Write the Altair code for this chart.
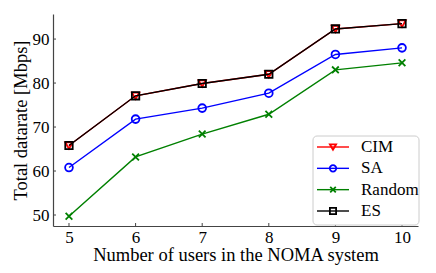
import altair as alt
import pandas as pd

users = [5, 6, 7, 8, 9, 10]
cim = [65.8, 77.1, 79.9, 82.0, 92.3, 93.5]
sa = [60.8, 71.8, 74.3, 77.7, 86.5, 88.0]
rnd = [49.7, 63.2, 68.4, 72.9, 83.0, 84.6]
es = [65.8, 77.1, 79.9, 82.0, 92.3, 93.5]

series_names = ["CIM", "SA", "Random", "ES"]
series_values = [cim, sa, rnd, es]
series_colors = ["#ff0000", "#0000ff", "#008000", "#000000"]
x_shape = "M-1,-1L1,1M-1,1L1,-1"
series_shapes = ["triangle-down", "circle", x_shape, "square"]
series_sizes = [55, 60, 45, 55]

x_ticks = [5, 6, 7, 8, 9, 10]
y_ticks = [50, 60, 70, 80, 90]

FONT = "Liberation Serif"
W, H = 365, 212

xs = alt.Scale(domain=[4.76, 10.24], nice=False, zero=False)
ys = alt.Scale(domain=[47.5, 95.7], nice=False, zero=False)

rows = []
for n, vals in zip(series_names, series_values):
    for u, v in zip(users, vals):
        rows.append({"users": u, "rate": v, "series": n})
df = pd.DataFrame(rows)

x_enc = alt.X("users:Q", scale=xs,
              axis=alt.Axis(values=x_ticks, format="d",
                            title="Number of users in the NOMA system",
                            grid=False, ticks=False, labelPadding=3, titlePadding=0))
y_enc = alt.Y("rate:Q", scale=ys,
              axis=alt.Axis(values=y_ticks, format="d", title="Total datarate [Mbps]",
                            grid=False, ticks=False, labelPadding=4, titlePadding=2))

layers = []
for n, c, s, sz in zip(series_names, series_colors, series_shapes, series_sizes):
    base = alt.Chart(df).transform_filter(alt.datum.series == n)
    layers.append(base.mark_line(color=c, strokeWidth=1.4).encode(x=x_enc, y=y_enc))
    layers.append(base.mark_point(color=c, shape=s, size=sz, filled=False,
                                  strokeWidth=1.8, opacity=1).encode(x=x_enc, y=y_enc))

xt = pd.DataFrame({"t": x_ticks})
yt = pd.DataFrame({"t": y_ticks})
layers.append(alt.Chart(xt).mark_rule(color="#444", strokeWidth=1).encode(
    x=alt.X("t:Q", scale=xs), y=alt.value(H), y2=alt.value(H - 3)))
layers.append(alt.Chart(yt).mark_rule(color="#444", strokeWidth=1).encode(
    y=alt.Y("t:Q", scale=ys), x=alt.value(0), x2=alt.value(3)))

main = alt.layer(*layers)

# legend
leg = pd.DataFrame({"name": series_names, "color": series_colors,
                    "shape": series_shapes, "size": series_sizes})
box = pd.DataFrame({"a": [0]})
leg_y = alt.Y("name:N", scale=alt.Scale(type="point", domain=series_names,
                                         range=[133, 197], padding=0), axis=None)
leg_layers = [
    alt.Chart(box).mark_rect(fill="white", stroke="#cccccc", strokeWidth=1,
                             cornerRadius=4).encode(
        x=alt.value(260), x2=alt.value(366), y=alt.value(122), y2=alt.value(211)),
]
for n, c, s, sz in zip(series_names, series_colors, series_shapes, series_sizes):
    b = alt.Chart(leg).transform_filter(alt.datum.name == n)
    leg_layers.append(b.mark_rule(color=c, strokeWidth=1.4).encode(
        x=alt.value(264), x2=alt.value(296), y=leg_y))
    leg_layers.append(b.mark_point(color=c, shape=s, size=sz * 0.7, filled=False,
                                   strokeWidth=1.8, opacity=1).encode(
        x=alt.value(280), y=leg_y))
leg_layers.append(alt.Chart(leg).mark_text(align="left", baseline="middle",
                                           font="Liberation Serif, Times New Roman, serif",
                                           fontWeight="normal",
                                           fontSize=17, color="black").encode(
    x=alt.value(308), y=leg_y, text="name:N"))
legend = alt.layer(*leg_layers)

chart = alt.layer(main, legend).resolve_scale(y="independent", x="independent").properties(
    width=W, height=H,
    background="white",
    autosize=alt.AutoSizeParams(type="none"),
    padding={"left": 45, "top": 6, "right": 10, "bottom": 39},
).configure_view(stroke=None).configure_axis(
    labelFont=FONT, titleFont=FONT, labelFontSize=17, titleFontSize=18.5,
    labelColor="black", titleColor="black", titleFontWeight="normal",
    domainColor="#444", domainWidth=1.2,
)

chart.save("out.html", embed_options={"renderer": "svg", "actions": False})
